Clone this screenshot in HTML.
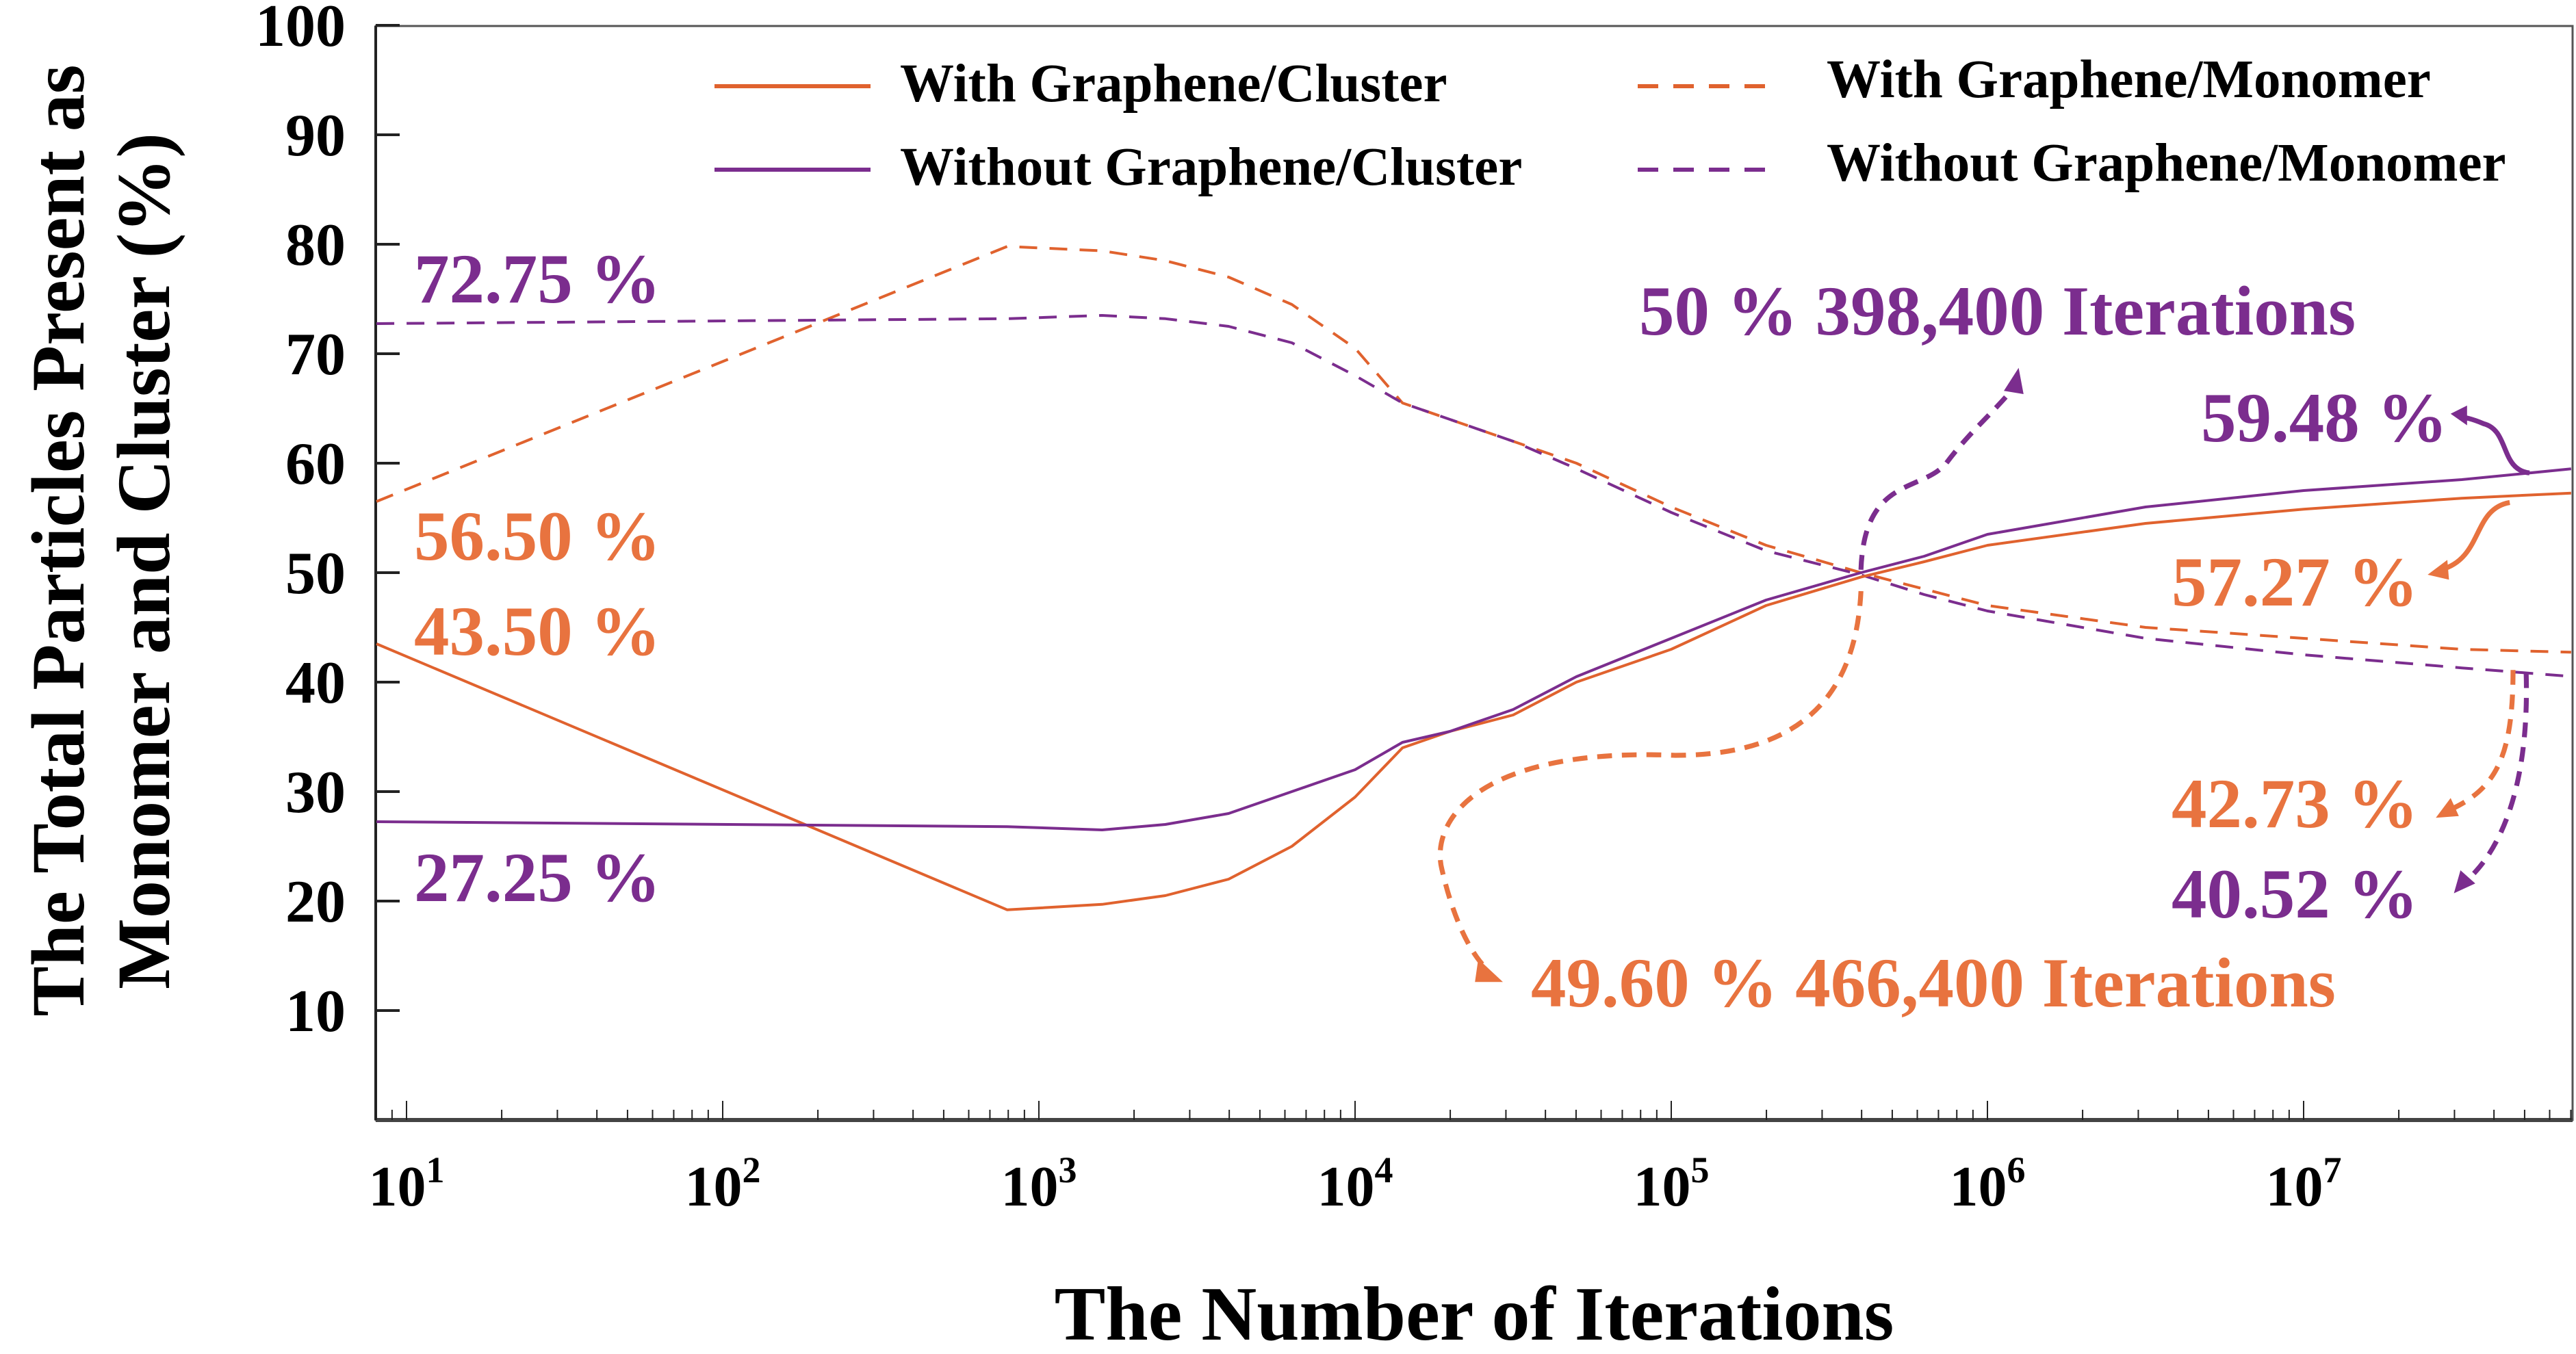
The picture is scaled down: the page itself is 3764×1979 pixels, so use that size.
<!DOCTYPE html>
<html><head><meta charset="utf-8"><style>
html,body{margin:0;padding:0;background:#fff;}
svg{display:block;font-family:"Liberation Serif",serif;font-weight:bold;}
</style></head><body>
<svg id="chart" width="3764" height="1979" viewBox="0 0 3764 1979" xmlns="http://www.w3.org/2000/svg">
<g id="axes"></g>
<g id="series"></g>
<g id="labels">
  <text transform="translate(122,790) rotate(-90)" text-anchor="middle" font-size="110">The Total Particles Present as</text>
  <text transform="translate(247,820) rotate(-90)" text-anchor="middle" font-size="110">Monomer and Cluster (%)</text>
  <text x="2154" y="1958" text-anchor="middle" font-size="112">The Number of Iterations</text>
</g>
<g id="legend" font-size="79">
  <g><line x1="1044" y1="126" x2="1272" y2="126" stroke="#E0622E" stroke-width="6"/><text x="1315" y="148">With Graphene/Cluster</text></g>
  <g><line x1="1044" y1="248" x2="1272" y2="248" stroke="#7B2D8E" stroke-width="6"/><text x="1315" y="270">Without Graphene/Cluster</text></g>
  <g><line x1="2393" y1="126" x2="2600" y2="126" stroke="#E0622E" stroke-width="6" stroke-dasharray="30,22"/><text x="2669" y="142">With Graphene/Monomer</text></g>
  <g><line x1="2393" y1="248" x2="2600" y2="248" stroke="#7B2D8E" stroke-width="6" stroke-dasharray="30,22"/><text x="2669" y="264">Without Graphene/Monomer</text></g>
</g>
<g id="annotations" font-size="103">
  <text x="605" y="442" fill="#7B2D8E">72.75 %</text>
  <text x="605" y="818" fill="#E8733F">56.50 %</text>
  <text x="605" y="957" fill="#E8733F">43.50 %</text>
  <text x="605" y="1317" fill="#7B2D8E">27.25 %</text>
  <text x="2395" y="489" fill="#7B2D8E">50 % 398,400 Iterations</text>
  <text x="3216" y="645" fill="#7B2D8E">59.48 %</text>
  <text x="3173" y="885" fill="#E8733F">57.27 %</text>
  <text x="3173" y="1209" fill="#E8733F">42.73 %</text>
  <text x="3173" y="1341" fill="#7B2D8E">40.52 %</text>
  <text x="2237" y="1471" fill="#E8733F">49.60 % 466,400 Iterations</text>
  <g transform="scale(2.4)" fill="none" stroke-width="3">
    <path d="M1133,347 C1135,290 1170,300 1185,282 C1200,262 1215,250 1226,236" stroke="#7B2D8E" stroke-dasharray="9,6"/>
    <polygon points="1229,224 1220,238 1232,240" fill="#7B2D8E" stroke="none"/>
    <path d="M1133,360 C1130,420 1100,460 1020,460 C900,455 870,500 878,530 C885,560 895,580 905,590" stroke="#E8733F" stroke-dasharray="9,6"/>
    <polygon points="915,598 900,584 898,598" fill="#E8733F" stroke="none"/>
    <path d="M1540,288 C1522,286 1528,262 1512,258 C1505,255 1500,254 1498,254" stroke="#7B2D8E"/>
    <polygon points="1492,252 1502,247 1502,259" fill="#7B2D8E" stroke="none"/>
    <path d="M1528,306 C1505,310 1512,340 1486,347" stroke="#E8733F"/>
    <polygon points="1478,350 1490,341 1491,353" fill="#E8733F" stroke="none"/>
    <path d="M1530,408 C1530,460 1520,480 1492,493" stroke="#E8733F" stroke-dasharray="9,6"/>
    <polygon points="1483,498 1492,486 1497,497" fill="#E8733F" stroke="none"/>
    <path d="M1538,410 C1540,480 1522,518 1502,536" stroke="#7B2D8E" stroke-dasharray="9,6"/>
    <polygon points="1494,544 1498,530 1507,538" fill="#7B2D8E" stroke="none"/>
  </g>
</g>
</svg>
<script>
const xLog = [0.905, 2.9, 3.2, 3.4, 3.6, 3.8, 4.0, 4.15, 4.3, 4.5, 4.7, 5.0, 5.3, 5.6, 5.8, 6.0, 6.5, 7.0, 7.5, 7.846];
const withCluster = [43.5, 19.2, 19.7, 20.5, 22, 25, 29.5, 34, 35.5, 37, 40, 43, 47, 49.6, 51, 52.5, 54.5, 55.8, 56.8, 57.27];
const withoutCluster = [27.25, 26.8, 26.5, 27, 28, 30, 32, 34.5, 35.5, 37.5, 40.5, 44, 47.5, 50, 51.5, 53.5, 56, 57.5, 58.5, 59.48];
const withMonomer = [56.5, 79.8, 79.4, 78.5, 77, 74.5, 70.5, 65.5, 64, 62, 60, 56, 52.5, 50, 48.5, 47, 45, 44, 43, 42.73];
const withoutMonomer = [72.75, 73.2, 73.5, 73.2, 72.5, 71, 68, 65.5, 64, 62, 59.5, 55.5, 52, 49.8, 48, 46.5, 44, 42.5, 41.3, 40.52];
const yTicks = [10, 20, 30, 40, 50, 60, 70, 80, 90, 100];
const xDecades = [1, 2, 3, 4, 5, 6, 7];

const NS = "http://www.w3.org/2000/svg";
const X0 = 594, DEC = 462, Y0 = 1637, YU = 16;
const L = 549, R = 3759, T = 38, B = 1637;
function xs(l){ return X0 + (l - 1) * DEC; }
function ys(v){ return Y0 - v * YU; }
function mk(tag, attrs, parent){ const e = document.createElementNS(NS, tag); for (const k in attrs) e.setAttribute(k, attrs[k]); parent.appendChild(e); return e; }

const axes = document.getElementById('axes');
const frame = mk('rect', {x:L, y:T, width:R-L, height:B-T, fill:'none', stroke:'#555', 'stroke-width':3}, axes);


const xl = mk('line', {x1:L, y1:B, x2:R, y2:B, stroke:'#444', 'stroke-width':6}, axes);


const yl = mk('line', {x1:L, y1:T, x2:L, y2:B, stroke:'#222', 'stroke-width':4}, axes);



yTicks.forEach(v => {
  const y = ys(v);
  const t = mk('line', {x1:L, y1:y, x2:L+35, y2:y, stroke:'#222', 'stroke-width':4}, axes);
  
  
  const lb = mk('text', {x:505, y:y+30, 'text-anchor':'end', 'font-size':88}, axes);
  lb.textContent = String(v);
  
  
});

for (let d = 0; d <= 7; d++) {
  for (let m = 1; m <= 9; m++) {
    const l = d + Math.log10(m);
    const x = xs(l);
    if (x < L || x > R) continue;
    const len = m === 1 ? 28 : 15;
    const t = mk('line', {x1:x, y1:B, x2:x, y2:B-len, stroke:'#222', 'stroke-width':2}, axes);
    
    
  }
}
xDecades.forEach(d => {
  const x = xs(d);
  const tx = mk('text', {x:x, y:1762, 'text-anchor':'middle', 'font-size':84}, axes);
  
  
  const b = document.createElementNS(NS, 'tspan'); b.textContent = '10'; tx.appendChild(b);
  const s = document.createElementNS(NS, 'tspan'); s.setAttribute('dy', '-34'); s.setAttribute('font-size', '54'); s.textContent = String(d); tx.appendChild(s);
});

const ser = document.getElementById('series');
function draw(vals, color, dash, name){
  const d = vals.map((v, i) => (i ? 'L' : 'M') + xs(xLog[i]).toFixed(1) + ',' + ys(v).toFixed(1)).join(' ');
  const p = mk('path', {d:d, fill:'none', stroke:color, 'stroke-width':4, 'stroke-linejoin':'round'}, ser);
  if (dash) p.setAttribute('stroke-dasharray', '26,18');
  
  
}
draw(withMonomer, '#E0622E', true, 'line-with-graphene-monomer');
draw(withoutMonomer, '#7B2D8E', true, 'line-without-graphene-monomer');
draw(withCluster, '#E0622E', false, 'line-with-graphene-cluster');
draw(withoutCluster, '#7B2D8E', false, 'line-without-graphene-cluster');
</script>
</body></html>
